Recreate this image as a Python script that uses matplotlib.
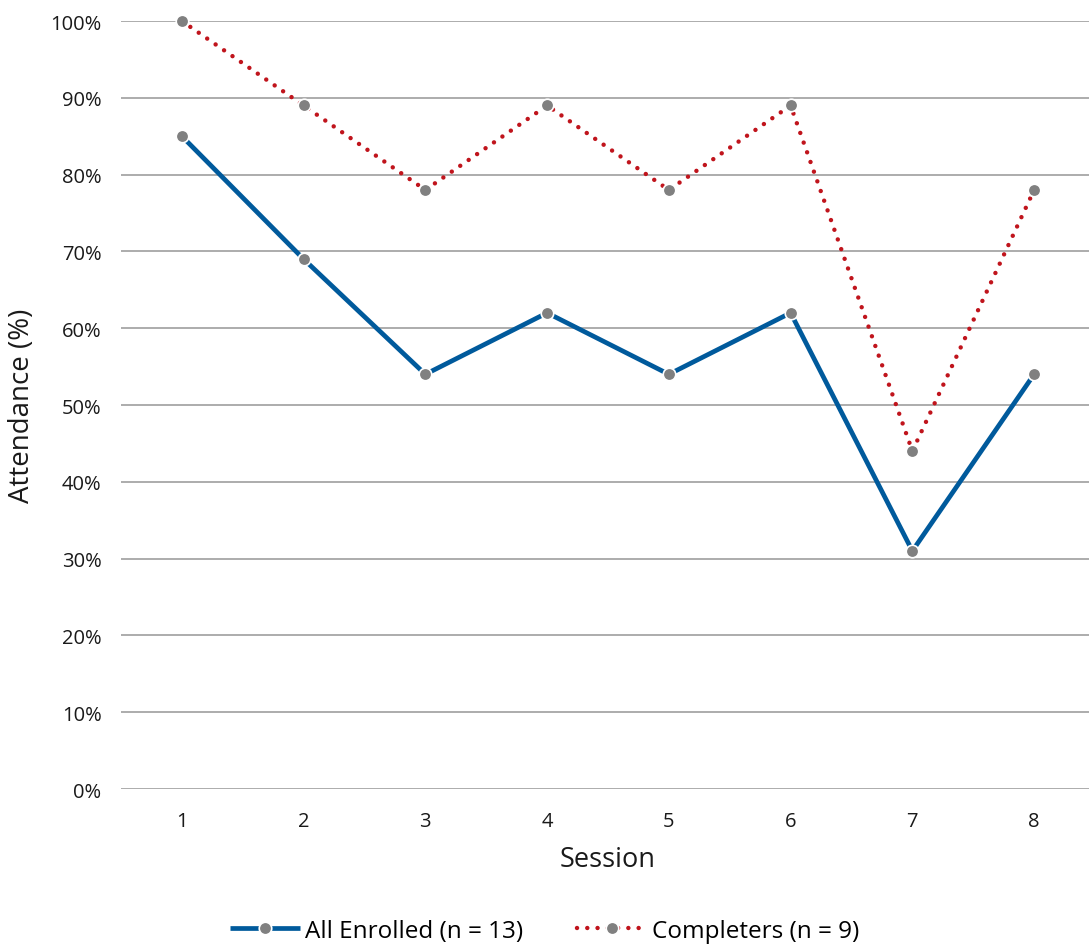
import matplotlib
import matplotlib.pyplot as plt
from matplotlib.ticker import PercentFormatter

matplotlib.use('Agg')

plt.rcParams['font.family'] = ['Open Sans', 'DejaVu Sans']

sessions = [1, 2, 3, 4, 5, 6, 7, 8]
allEnrolled = [85, 69, 54, 62, 54, 62, 31, 54]
completers = [100, 89, 78, 89, 78, 89, 44, 78]
yTicks = [0, 10, 20, 30, 40, 50, 60, 70, 80, 90, 100]

fig = plt.figure(figsize=(10.89, 9.45), dpi=100)
ax = fig.add_axes([0.1111, 0.164, 0.8944, 0.8127])

ax.plot(
    sessions, allEnrolled,
    color="#005a9c", lw=3.4, solid_capstyle="butt",
    marker="o", ms=9, mfc="#808080", mec="white", mew=1.2,
    label="All Enrolled (n = 13)", clip_on=False, zorder=3
)
ax.plot(
    sessions, completers,
    color="#c0141c", lw=3.2, linestyle=(0, (0.01, 2.3)), dash_capstyle="round",
    marker="o", ms=9, mfc="#808080", mec="white", mew=1.2,
    label="Completers (n = 9)", clip_on=False, zorder=3
)

ax.set_xlim(0.5, 8.5)
ax.set_ylim(0, 100)
ax.set_xticks(sessions)
ax.set_yticks(yTicks)
ax.yaxis.set_major_formatter(PercentFormatter(decimals=0))
ax.grid(axis="y", color="#a6a6a6", lw=1.3)
ax.set_axisbelow(True)
for s in ax.spines.values():
    s.set_visible(False)
ax.tick_params(length=0, labelsize=14.5, colors="#1a1a1a")
ax.tick_params(axis="x", pad=16)
ax.tick_params(axis="y", pad=14)

ax.set_xlabel("Session", fontsize=19.5, color="#1a1a1a", labelpad=10)
ax.set_ylabel("Attendance (%)", fontsize=20, color="#1a1a1a", labelpad=10)

fig.legend(
    loc="center", bbox_to_anchor=(0.5, 0.014), ncol=2, frameon=False,
    fontsize=17.5, handlelength=2.9, handletextpad=0.2, columnspacing=2.2
)

fig.savefig("out.png", dpi=100)
